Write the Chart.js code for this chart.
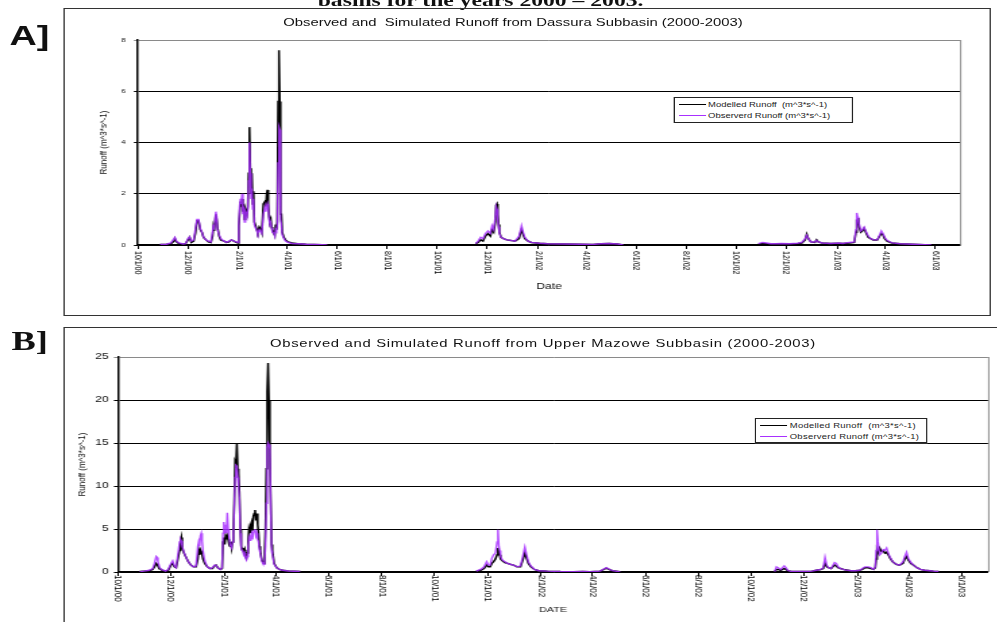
<!DOCTYPE html>
<html>
<head>
<meta charset="utf-8">
<script src="https://cdn.jsdelivr.net/npm/chart.js@4.4.1/dist/chart.umd.min.js"></script>
<style>
  html, body { margin: 0; padding: 0; background: #fff; }
  body { width: 997px; height: 622px; overflow: hidden; position: relative;
         font-family: "Liberation Sans", Arial, sans-serif; color: #111; }
  /* the whole figure is laid out narrow and widened horizontally */
  #sheet { position: absolute; left: 0; top: 0; width: 738.5px; height: 622px;
           transform: scaleX(1.35); transform-origin: 0 0; }
  .heading { position: absolute; left: 156px; width: 400px; top: -8px; text-align: center;
             font: bold 17.5px "Liberation Serif", "Times New Roman", serif; white-space: nowrap; line-height: 17px; }
  .tag { position: absolute; font-weight: bold; line-height: 1; }
  .box { position: absolute; border: 1px solid #333; box-sizing: border-box; }
  canvas { position: absolute; }
  .ptitle { position: absolute; text-align: center; white-space: nowrap; font-size: 11px; line-height: 11px; color: #111; }
  .legend { position: absolute; border: 1px solid #222; box-sizing: border-box; background: #fff;
            font-size: 7px; color: #222; }
  .legend .row { position: absolute; left: 0; height: 9px; line-height: 9px; white-space: nowrap; }
  .legend .sw { position: absolute; left: 3px; top: 4px; width: 20px; height: 0; border-top: 1.2px solid #000; }
  .legend .tx { position: absolute; left: 25px; top: 0; }
</style>
</head>
<body>
<div id="sheet">
  <div class="heading">basins for the years 2000 – 2003.</div>

  <div class="tag" style="left:7px; top:22px; font-family:'Liberation Sans',Arial,sans-serif; font-size:28px;">A]</div>
  <div class="box" style="left:47px; top:8px; width:687px; height:308px;"></div>
  <div class="ptitle" style="left:180px; width:400px; top:16.5px;">Observed and&nbsp; Simulated Runoff from Dassura Subbasin (2000-2003)</div>
  <canvas id="chartA" width="687" height="308" style="left:47px; top:8px; width:687px; height:308px;"></canvas>
  <div class="legend" style="left:498.5px; top:97px; width:133px; height:26px;">
    <div class="row" style="top:2px;"><span class="sw" style="border-color:#000;"></span><span class="tx">Modelled Runoff&nbsp; (m^3*s^-1)</span></div>
    <div class="row" style="top:13px;"><span class="sw" style="border-color:#a830ff;"></span><span class="tx">Observerd Runoff (m^3*s^-1)</span></div>
  </div>

  <div class="tag" style="left:8.5px; top:328px; font-family:'Liberation Serif','Times New Roman',serif; font-size:27px;">B]</div>
  <div class="box" style="left:47px; top:327px; width:700px; height:300px;"></div>
  <div class="ptitle" style="left:200px; width:400px; top:337.5px; letter-spacing:0.5px;">Observed and Simulated Runoff from Upper Mazowe Subbasin (2000-2003)</div>
  <canvas id="chartB" width="692" height="295" style="left:47px; top:327px; width:692px; height:295px;"></canvas>
  <div class="legend" style="left:559px; top:418px; width:128px; height:25px;">
    <div class="row" style="top:2px;"><span class="sw" style="border-color:#000;"></span><span class="tx" style="letter-spacing:0.2px;">Modelled Runoff&nbsp; (m^3*s^-1)</span></div>
    <div class="row" style="top:13px;"><span class="sw" style="border-color:#a830ff;"></span><span class="tx" style="letter-spacing:0.2px;">Observerd Runoff (m^3*s^-1)</span></div>
  </div>
</div>

<script>
// ---- axis ticks (every two months, day 0 = 1 Oct 2000) ----
const tickLabels = ['10/1/00','12/1/00','2/1/01','4/1/01','6/1/01','8/1/01','10/1/01','12/1/01',
                    '2/1/02','4/1/02','6/1/02','8/1/02','10/1/02','12/1/02','2/1/03','4/1/03','6/1/03'];
function dayOf(label) {
  const [m, d, y] = label.split('/').map(Number);
  return Math.round((Date.UTC(2000 + y, m - 1, d) - Date.UTC(2000, 9, 1)) / 86400000);
}
const tickDays = tickLabels.map(dayOf);
const lastDay = dayOf('7/1/03');

const seriesNames = ['Modelled Runoff  (m^3*s^-1)', 'Observerd Runoff (m^3*s^-1)'];

// ---- Dassura subbasin: day number, modelled and observed runoff ----
const dassuraDays = [
  27,35,40,44,45,47,50,55,58,61,
  63,65,68,70,72,74,76,78,80,83,
  86,89,91,92,93,95,96,97,99,101,
  105,108,111,114,117,120,122,123,124,125,
  126,127,128,129,130,131,133,134,135,136,
  137,138,139,140,141,142,143,145,146,148,
  150,151,152,153,155,156,157,158,159,160,
  161,162,163,164,166,167,168,169,170,171,
  172,173,174,175,176,178,180,183,188,195,
  205,215,225,231,300,
  412,415,418,421,424,427,430,432,434,436,
  437,438,439,440,441,443,446,450,455,460,
  465,467,468,470,472,476,480,490,500,520,
  540,555,565,575,585,592,680,
  757,762,767,772,778,785,795,805,810,814,
  816,818,821,826,828,830,835,845,855,860,
  868,874,876,877,878,879,880,882,884,886,
  888,891,894,897,902,905,907,909,911,914,
  920,930,945,960,968
];
const dassuraModelled = [
  0.02,0.03,0.05,0.15,0.25,0.12,0.06,0.03,0.05,0.2,
  0.3,0.1,0.15,0.45,0.95,0.95,0.6,0.5,0.3,0.2,
  0.12,0.1,0.35,0.7,0.55,1.2,1.0,0.7,0.35,0.2,
  0.15,0.1,0.12,0.2,0.15,0.1,0.08,0.75,1.2,1.7,
  1.5,1.8,1.3,1.6,1.0,1.4,1.2,1.5,2.8,4.6,
  3.0,2.0,2.8,1.6,2.1,0.9,0.8,0.6,0.5,0.7,
  0.6,0.5,1.0,1.6,1.7,1.5,2.0,2.15,1.6,1.1,
  0.9,1.0,0.7,0.6,0.5,0.4,0.8,0.6,0.9,5.6,
  7.6,5.6,1.2,1.2,0.5,0.3,0.2,0.12,0.08,0.05,
  0.03,0.02,0.01,0,null,
  0.05,0.1,0.2,0.15,0.35,0.45,0.35,0.6,0.5,0.9,
  1.55,1.6,1.2,0.8,0.5,0.3,0.25,0.2,0.18,0.15,
  0.25,0.5,0.6,0.4,0.25,0.15,0.1,0.07,0.05,0.04,
  0.03,0.02,0.05,0.06,0.04,0,null,
  0.03,0.06,0.05,0.03,0.04,0.05,0.04,0.06,0.08,0.2,
  0.42,0.25,0.12,0.1,0.2,0.12,0.08,0.06,0.07,0.06,
  0.08,0.1,0.5,1.0,0.8,1.05,0.7,0.5,0.55,0.65,
  0.5,0.3,0.25,0.2,0.2,0.35,0.45,0.4,0.25,0.15,
  0.08,0.05,0.03,0.01,0
];
const dassuraObserved = [
  0.02,0.03,0.08,0.25,0.3,0.15,0.08,0.04,0.05,0.25,
  0.32,0.15,0.2,0.6,1.0,1.0,0.65,0.5,0.3,0.2,
  0.15,0.12,0.5,0.8,0.6,1.3,1.1,0.6,0.4,0.25,
  0.15,0.1,0.15,0.2,0.15,0.12,0.1,0.8,1.5,1.8,
  1.6,2.0,1.2,1.5,0.9,1.3,1.1,1.4,2.5,4.0,
  2.8,1.8,2.2,1.4,1.8,0.8,0.7,0.55,0.45,0.6,
  0.5,0.45,0.8,1.2,1.5,1.3,1.5,1.6,1.4,1.0,
  0.8,0.85,0.65,0.5,0.45,0.35,0.6,0.55,0.8,3.2,
  4.6,4.5,1.0,0.8,0.4,0.25,0.15,0.1,0.06,0.05,
  0.03,0.02,0.01,0,null,
  0.05,0.15,0.3,0.25,0.45,0.55,0.45,0.75,0.6,1.1,
  1.5,1.4,1.0,0.7,0.45,0.3,0.25,0.2,0.18,0.15,
  0.35,0.6,0.75,0.5,0.3,0.15,0.1,0.07,0.05,0.04,
  0.03,0.02,0.05,0.06,0.04,0,null,
  0.05,0.1,0.08,0.05,0.05,0.06,0.05,0.07,0.1,0.25,
  0.38,0.25,0.12,0.12,0.18,0.12,0.08,0.06,0.08,0.06,
  0.1,0.12,0.6,1.25,1.1,1.0,0.8,0.55,0.6,0.7,
  0.55,0.35,0.25,0.2,0.2,0.4,0.55,0.45,0.3,0.18,
  0.08,0.05,0.03,0.01,0
];

// ---- Upper Mazowe subbasin: day number, modelled and observed runoff ----
const mazoweDays = [
  25,30,36,40,42,44,45,46,48,51,
  55,58,61,63,65,67,69,71,72,73,
  74,76,78,81,84,87,90,92,93,94,
  95,96,97,98,100,103,106,109,111,113,
  115,118,120,121,122,123,124,125,126,127,
  128,129,130,131,132,133,134,135,136,137,
  138,139,140,141,142,143,144,145,146,147,
  148,149,150,151,152,153,154,155,156,157,
  158,159,160,161,162,163,164,165,166,167,
  168,169,170,171,172,173,174,175,176,177,
  178,180,183,186,190,196,203,210,300,
  413,418,422,425,427,429,431,433,435,437,
  438,439,440,441,443,446,449,452,456,460,
  464,467,469,471,473,476,480,485,495,510,
  525,536,544,556,560,563,566,570,579,680,
  757,759,761,764,766,768,770,772,776,785,
  794,800,805,810,813,815,817,819,822,826,
  828,830,833,838,845,850,855,858,861,865,
  868,871,873,874,875,876,878,880,882,884,
  886,888,890,893,897,901,905,907,909,911,
  914,917,921,925,930,936,940,946
];
const mazoweModelled = [
  0.05,0.1,0.15,0.3,0.6,1.0,0.9,0.7,0.4,0.2,
  0.1,0.2,0.8,1.0,0.6,0.5,1.5,2.5,3.5,4.0,
  2.8,2.2,1.8,1.2,0.8,0.6,0.6,1.5,2.5,2.0,
  2.6,2.4,2.0,1.5,1.0,0.6,0.4,0.4,0.7,0.8,
  0.5,0.3,0.4,3.5,4.0,3.2,4.2,3.8,4.2,3.8,
  3.2,3.0,3.5,2.8,3.5,4.3,8.0,12.8,12.5,15.0,
  12.0,11.5,9.2,5.0,3.0,2.6,2.8,2.3,2.6,1.8,
  1.6,2.2,3.5,5.0,4.6,5.5,5.8,4.8,6.5,6.8,
  7.2,6.0,6.8,5.5,4.5,3.0,2.5,1.8,1.3,1.2,
  1.0,2.0,5.3,12.0,21.0,24.3,20.0,14.0,8.5,3.2,
  2.5,1.0,0.5,0.3,0.2,0.12,0.08,0.05,null,
  0.1,0.2,0.4,0.8,0.6,0.6,1.0,1.2,1.5,2.0,
  2.8,2.2,2.0,1.5,1.3,1.1,1.0,0.9,0.8,0.6,
  0.6,1.5,2.2,1.6,1.0,0.6,0.3,0.15,0.1,0.05,
  0.03,0.05,0.04,0.1,0.3,0.45,0.3,0.15,0.02,null,
  0.05,0.3,0.3,0.2,0.3,0.4,0.3,0.15,0.05,0.05,
  0.05,0.1,0.2,0.3,0.4,1.0,0.6,0.5,0.4,0.8,
  0.7,0.5,0.4,0.25,0.15,0.15,0.2,0.3,0.5,0.5,
  0.4,0.3,0.5,1.5,2.5,2.2,2.8,2.4,2.5,2.2,
  2.3,2.0,1.6,1.2,0.9,0.8,1.0,1.5,1.8,1.4,
  1.0,0.8,0.5,0.3,0.2,0.15,0.1,0.05
];
const mazoweObserved = [
  0.05,0.1,0.2,0.4,1.0,1.8,1.7,1.2,0.5,0.25,
  0.1,0.3,1.0,1.3,0.7,0.5,2.0,3.5,3.8,3.6,
  3.0,2.3,1.8,1.2,0.8,0.6,0.7,3.0,3.5,3.0,
  4.2,4.5,3.6,2.4,1.3,0.6,0.4,0.5,0.8,0.8,
  0.5,0.3,0.5,4.5,5.8,4.5,5.5,4.5,6.9,5.0,
  4.2,3.2,3.0,2.8,3.5,4.2,7.5,11.0,12.4,12.3,
  11.0,10.0,8.5,4.5,2.8,2.5,2.4,2.0,2.2,1.6,
  1.4,1.8,3.0,4.0,3.7,4.2,4.5,3.8,4.6,4.8,
  5.0,4.2,4.5,3.8,3.5,2.6,2.2,1.6,1.2,1.0,
  0.9,1.5,3.0,8.0,14.5,15.0,14.8,14.3,8.0,2.5,
  2.0,0.9,0.5,0.3,0.2,0.12,0.08,0.05,null,
  0.1,0.3,0.6,1.2,0.8,0.8,1.6,2.0,2.2,3.5,
  4.9,3.0,2.5,1.8,1.4,1.2,1.0,0.9,0.8,0.6,
  0.7,2.0,2.9,2.0,1.2,0.7,0.3,0.15,0.1,0.05,
  0.03,0.05,0.04,0.1,0.35,0.5,0.35,0.15,0.02,null,
  0.05,0.6,0.5,0.3,0.5,0.7,0.5,0.2,0.05,0.05,
  0.05,0.1,0.2,0.3,0.5,1.7,0.8,0.5,0.4,1.1,
  1.0,0.6,0.4,0.25,0.15,0.15,0.2,0.4,0.6,0.6,
  0.5,0.3,0.6,2.5,4.9,3.5,2.0,2.2,2.6,2.5,
  2.8,2.2,1.7,1.2,0.9,0.8,1.2,1.8,2.3,1.6,
  1.1,0.8,0.5,0.3,0.2,0.15,0.1,0.05
];

Chart.defaults.font.family = '"Liberation Sans", Arial, sans-serif';
Chart.defaults.color = '#111';

const toPoints = (days, vals) => days.map((d, i) => ({ x: d, y: vals[i] }));

// gray frame line along the right edge of the plot area
const rightEdge = {
  id: 'rightEdge',
  beforeDatasetsDraw(chart) {
    const { ctx, chartArea: a } = chart;
    ctx.save();
    ctx.strokeStyle = '#8a8a8a';
    ctx.lineWidth = 1;
    ctx.beginPath();
    ctx.moveTo(a.right + 0.5, a.top);
    ctx.lineTo(a.right + 0.5, a.bottom);
    ctx.stroke();
    ctx.restore();
  }
};

// date labels turned to read downward under each tick
const dateLabels = {
  id: 'dateLabels',
  afterDraw(chart, args, opts) {
    const sx = chart.scales.x;
    const ctx = chart.ctx;
    ctx.save();
    ctx.font = opts.size + 'px "Liberation Sans", Arial, sans-serif';
    ctx.fillStyle = '#000';
    ctx.textAlign = 'left';
    ctx.textBaseline = 'middle';
    sx.ticks.forEach(t => {
      const px = sx.getPixelForValue(t.value);
      ctx.save();
      ctx.translate(px, sx.top + opts.offset);
      ctx.rotate(Math.PI / 2);
      ctx.fillText(t.label, 0, 0);
      ctx.restore();
    });
    ctx.restore();
  }
};

function makeChart(id, p) {
  return new Chart(document.getElementById(id), {
    type: 'line',
    data: {
      datasets: [
        // modelled underneath, observed drawn over it
        { label: seriesNames[0], data: toPoints(p.days, p.modelled), order: 2,
          borderColor: '#000000', borderWidth: 1.5, pointRadius: 0, tension: 0, spanGaps: false },
        { label: seriesNames[1], data: toPoints(p.days, p.observed), order: 1,
          borderColor: 'rgba(168,48,255,0.85)', borderWidth: 1.4, pointRadius: 0, tension: 0, spanGaps: false }
      ]
    },
    options: {
      responsive: false,
      animation: false,
      devicePixelRatio: 1,
      layout: { padding: p.padding },
      plugins: {
        legend: { display: false },
        tooltip: { enabled: false },
        dateLabels: { size: p.dateSize, offset: p.dateOffset }
      },
      scales: {
        x: {
          type: 'linear', min: 0, max: lastDay,
          afterBuildTicks: s => { s.ticks = tickDays.map(v => ({ value: v })); },
          afterFit: s => { s.height = p.xHeight; },
          ticks: { display: false, callback: (v, i) => tickLabels[i] },
          grid: { drawOnChartArea: false, drawTicks: true, tickLength: 4, color: '#000' },
          border: { display: true, color: '#000', width: 1.5 },
          title: { display: true, text: p.xTitle, font: { size: p.xTitleSize }, padding: 0, color: '#111' }
        },
        y: {
          min: 0, max: p.yMax,
          afterFit: s => { s.width = p.yWidth; },
          ticks: { stepSize: p.yStep, font: { size: p.yTickSize }, padding: p.yTickPad, color: '#111' },
          grid: { color: c => (c.tick && c.tick.value === p.yMax) ? '#8a8a8a' : '#000',
                  lineWidth: 1, drawTicks: true, tickLength: 3 },
          border: { display: true, color: '#000', width: 1.5 },
          title: { display: true, text: 'Runoff (m^3*s^-1)', font: { size: 8 }, padding: 0, color: '#111' }
        }
      }
    },
    plugins: [rightEdge, dateLabels]
  });
}

makeChart('chartA', {
  days: dassuraDays, modelled: dassuraModelled, observed: dassuraObserved,
  yMax: 8, yStep: 2, yTickSize: 6, yTickPad: 6,
  xTitle: 'Date', xTitleSize: 9, dateSize: 7, dateOffset: 6,
  padding: { left: 25.2, right: 22.9, top: 32, bottom: 23.6 },
  yWidth: 30, xHeight: 47.4
});

makeChart('chartB', {
  days: mazoweDays, modelled: mazoweModelled, observed: mazoweObserved,
  yMax: 25, yStep: 5, yTickSize: 9, yTickPad: 4,
  xTitle: 'DATE', xTitleSize: 8, dateSize: 8, dateOffset: 3,
  padding: { left: 8.9, right: 7.1, top: 30, bottom: 7.2 },
  yWidth: 31.5, xHeight: 42.8
});
</script>
</body>
</html>
